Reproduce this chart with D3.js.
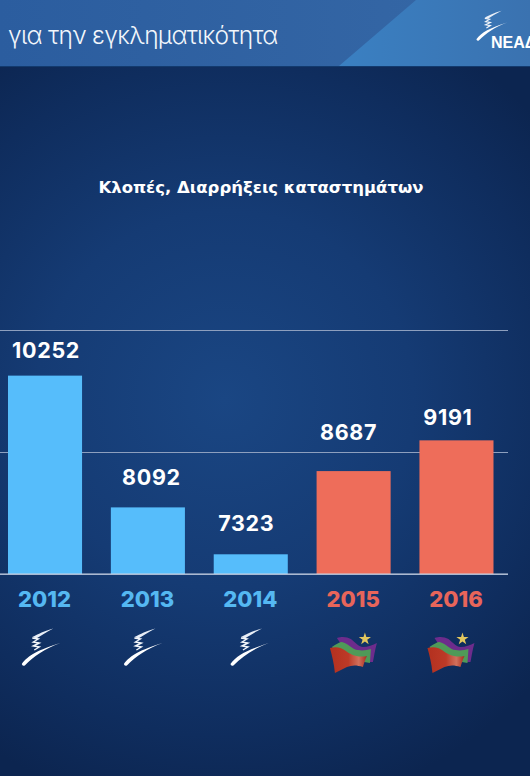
<!DOCTYPE html>
<html><head><meta charset="utf-8">
<script src="https://cdn.jsdelivr.net/npm/d3@7/dist/d3.min.js"></script>
<style>html,body{margin:0;padding:0;background:#0d2650;overflow:hidden}svg{display:block}</style>
</head><body><svg id="c" width="530" height="776"></svg>
<script>
const years = ["2012","2013","2014","2015","2016"];
const values = [10252,8092,7323,8687,9191];
const parties = ["nd","nd","nd","syriza","syriza"];
const gridTicks = [7000,9000,11000];
const chartTitle = "Κλοπές, Διαρρήξεις καταστημάτων";
const headerText = "για την εγκληματικότητα";
const logoText = "ΝΕΑΔ";

const W=530,H=776;
const svg=d3.select("#c");
const defs=svg.append("defs");
const bg=defs.append("radialGradient").attr("id","bg").attr("gradientUnits","userSpaceOnUse")
  .attr("cx",225).attr("cy",400).attr("r",420);
[[0,"#1a4683"],[0.45,"#153b74"],[0.8,"#0f2d5e"],[1,"#0c2550"]].forEach(s=>bg.append("stop").attr("offset",s[0]).attr("stop-color",s[1]));
const hd=defs.append("linearGradient").attr("id","hd").attr("x1",0).attr("x2",1).attr("y1",0).attr("y2",0);
[[0,"#2b5d9f"],[1,"#3668a6"]].forEach(s=>hd.append("stop").attr("offset",s[0]).attr("stop-color",s[1]));
const lt=defs.append("linearGradient").attr("id","lt").attr("x1",0).attr("x2",1).attr("y1",0).attr("y2",0);
[[0,"#3a80c2"],[1,"#3a72b0"]].forEach(s=>lt.append("stop").attr("offset",s[0]).attr("stop-color",s[1]));
const fl=defs.append("linearGradient").attr("id","red").attr("x1",0).attr("x2",1).attr("y1",0).attr("y2",0);
[[0,"#b3301f"],[0.5,"#bd3a27"],[0.78,"#d0705c"],[1,"#a82c1e"]].forEach(s=>fl.append("stop").attr("offset",s[0]).attr("stop-color",s[1]));

svg.append("rect").attr("width",W).attr("height",H).attr("fill","url(#bg)");
svg.append("rect").attr("width",W).attr("height",66).attr("fill","url(#hd)");
svg.append("path").attr("d","M416,0H530V66H339Z").attr("fill","url(#lt)");
svg.append("rect").attr("y",66).attr("width",W).attr("height",1).attr("fill","#123a6e");
svg.append("text").attr("x",8).attr("y",44).attr("fill","#f2f6fb")
  .style("font","300 24.5px Inter").style("letter-spacing","-0.7px").text(headerText);

const y=d3.scaleLinear().domain([7000,11000]).range([574,330]);
const x=d3.scaleBand().domain(years).range([8,493.5]).paddingInner(0.28).paddingOuter(0);
const color=p=>p==="nd"?"#56bdfb":"#ee6d5a";
const labelColor=p=>p==="nd"?"#55b8f2":"#e8655a";

svg.append("g")
 .call(d3.axisLeft(y).tickValues(gridTicks).tickSize(-508).tickFormat(""))
 .call(g=>{g.select(".domain").remove();
   g.selectAll("line").attr("stroke","#8d9fbe").attr("stroke-width",1);});

svg.append("text").attr("x",261).attr("y",193).attr("text-anchor","middle").attr("fill","#fff")
  .style("font","700 16.5px 'DejaVu Sans'").text(chartTitle);

const data=years.map((d,i)=>({year:d,value:values[i],party:parties[i]}));
svg.selectAll("rect.bar").data(data).join("rect").attr("class","bar")
 .attr("x",d=>x(d.year)).attr("width",x.bandwidth())
 .attr("y",d=>y(d.value)).attr("height",d=>y(7000)-y(d.value)).attr("fill",d=>color(d.party));
svg.append("line").attr("x1",0).attr("x2",508).attr("y1",y(7000)).attr("y2",y(7000)).attr("stroke","#c9d4e4").attr("stroke-width",1.2);

svg.selectAll("text.val").data(data).join("text").attr("class","val")
 .attr("x",(d,i)=>x(d.year)+x.bandwidth()/2+[1,3.5,-4.5,-5,-8.5][i])
 .attr("y",(d,i)=>y(d.value)-[18,22,23,31,15][i])
 .attr("text-anchor","middle").attr("fill","#fff").style("font","700 21.5px Inter").style("letter-spacing","0.7px").text(d=>d.value);
svg.selectAll("text.yr").data(data).join("text").attr("class","yr")
 .attr("x",d=>x(d.year)+x.bandwidth()/2-0.5).attr("y",607)
 .attr("text-anchor","middle").attr("fill",d=>labelColor(d.party)).style("font","800 22px Inter").text(d=>d.year);

function torch(g,s){
  const a=g.append("g").attr("transform",`scale(${s})`);
  a.append("path").attr("d","M-19.5,17 C-13,8 -3,3 19,-4 C3,2 -7,9 -16.5,18.5 Q-19,19.5 -19.5,17Z").attr("fill","#fff");
  a.append("path").attr("d","M-9,-10 C-3,-13 3,-16 12,-18.5 C5,-15 -1,-11 -5,-8.5Z").attr("fill","#e8eef7");
  a.append("path").attr("d","M-9,-9 L-3,-8 L-8,-5 L-2,-4 L-8,-1 L-2,0 L-7,3").attr("fill","none").attr("stroke","#f4f7fb").attr("stroke-width",1.4);
}
function flag(g){
  g.append("path").attr("d","M-16,-17 C-10,-19 -6,-18 -2,-16 C3,-12 6,-8 10,-8 C15,-8 20,-10 24,-12 C22,-5 21,2 20,7 L10,7 L-10,-8Z").attr("fill","#6d2c8c");
  g.append("path").attr("d","M-21,-8 C-17,-11 -13,-13 -11,-13 C-5,-12 0,-5 5,-5 C10,-4 14,-5 18,-6 L17,8 L0,5 L-18,-4Z").attr("fill","#4f9a58");
  g.append("path").attr("d","M-23,-7 C-16,-9 -11,-7 -7,-4 C-3,-1 4,3 14,1 C12,5 11,9 10,12 C4,10 -1,10 -6,12 C-10,14 -14,16 -18,18 C-19,8 -21,0 -23,-7Z").attr("fill","url(#red)");
  g.append("path").attr("d",d3.symbol(d3.symbolStar,46)()).attr("transform","translate(12,-16)").attr("fill","#e3c75e");
}
const iconDx=[-3.75,-4.5,-0.8,-0.7,-6];
svg.selectAll("g.ic").data(data).join("g").attr("class","ic")
 .attr("transform",(d,i)=>`translate(${x(d.year)+x.bandwidth()/2+iconDx[i]},${d.party==="nd"?647:655})`)
 .each(function(d){const g=d3.select(this); d.party==="nd"?torch(g,1):flag(g);});

const lg=svg.append("g").attr("transform","translate(492,25.6)");
torch(lg,0.8);
svg.append("text").attr("x",491).attr("y",47.5).attr("fill","#fff").style("font","700 16px 'Liberation Sans'").text(logoText);
</script></body></html>
